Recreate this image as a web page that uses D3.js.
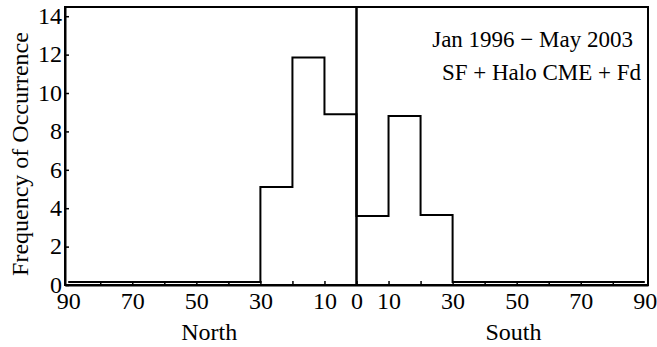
<!DOCTYPE html>
<html>
<head>
<meta charset="utf-8">
<script src="https://cdn.jsdelivr.net/npm/d3@7"></script>
<style>
  body { margin: 0; background: #fff; }
  svg { display: block; }
</style>
</head>
<body>
<div id="chart"></div>
<script>
// latitude bin edges (negative = North, positive = South)
const binStarts = [-90, -80, -70, -60, -50, -40, -30, -20, -10, 0, 10, 20, 30, 40, 50, 60, 70, 80];
const counts    = [0.15, 0.15, 0.15, 0.15, 0.15, 0.15, 5.1, 11.85, 8.9, 3.6, 8.8, 3.65, 0.15, 0.15, 0.15, 0.15, 0.15, 0.15];
const xLabelTicks = [-90, -70, -50, -30, -10, 0, 10, 30, 50, 70, 90];
const yTicks = [0, 2, 4, 6, 8, 10, 12, 14];
const legendLines = ["Jan 1996 \u2212 May 2003", "SF + Halo CME + Fd"];

const width = 657, height = 347;
const margin = { top: 7, right: 9, bottom: 62, left: 65 };
const FONT = "'Liberation Serif', 'Tinos', 'Times New Roman', 'DejaVu Serif', serif";

const svg = d3.select('#chart').append('svg')
  .attr('width', width)
  .attr('height', height);

const x = d3.scaleLinear([-91, 91], [margin.left, width - margin.right]);
const y = d3.scaleLinear([0, 14.48], [height - margin.bottom, margin.top]);

// frame
svg.append('rect')
  .attr('x', x.range()[0])
  .attr('y', y.range()[1])
  .attr('width', x.range()[1] - x.range()[0])
  .attr('height', y.range()[0] - y.range()[1])
  .attr('fill', 'none')
  .attr('stroke', '#000')
  .attr('stroke-width', 2);

// y axis
const yAxis = svg.append('g')
  .attr('transform', `translate(${margin.left},0)`)
  .call(d3.axisLeft(y).tickValues(yTicks).tickSize(-4).tickPadding(3).tickSizeOuter(0));
yAxis.select('.domain').attr('stroke-width', 2);
yAxis.selectAll('.tick line').attr('stroke-width', 1.5);
yAxis.selectAll('text').style('font-size', '24px').style('font-family', FONT).attr('dy', '0.3em');

// x axis minor ticks every 10 degrees
const xMinor = svg.append('g')
  .attr('transform', `translate(0,${y(0)})`)
  .call(d3.axisBottom(x).tickValues(d3.range(-80, 90, 10)).tickSize(-4).tickFormat('').tickSizeOuter(0));
xMinor.select('.domain').remove();
xMinor.selectAll('.tick line').attr('stroke-width', 1.5);

// x axis labels
const xAxis = svg.append('g')
  .attr('transform', `translate(0,${y(0)})`)
  .call(d3.axisBottom(x).tickValues(xLabelTicks).tickSize(0).tickPadding(7)
    .tickFormat(d => Math.abs(d)));
xAxis.select('.domain').attr('stroke-width', 2);
xAxis.selectAll('text').style('font-size', '24px').style('font-family', FONT);

// histogram outline
const pts = binStarts.map((b, i) => [b, counts[i]]);
pts.push([90, counts[counts.length - 1]]);
svg.append('path')
  .datum(pts)
  .attr('fill', 'none')
  .attr('stroke', '#000')
  .attr('stroke-width', 2)
  .attr('d', d3.line().x(d => x(d[0])).y(d => y(d[1])).curve(d3.curveStepAfter));

// divider at equator
svg.append('line')
  .attr('x1', x(0)).attr('x2', x(0))
  .attr('y1', y(0)).attr('y2', y.range()[1])
  .attr('stroke', '#000')
  .attr('stroke-width', 2.5);

// axis titles
svg.append('text')
  .attr('transform', `translate(28,${(y.range()[0] + y.range()[1]) / 2 + 8}) rotate(-90)`)
  .attr('text-anchor', 'middle')
  .style('font-family', FONT)
  .style('font-size', '24px')
  .text('Frequency of Occurrence');

svg.append('text')
  .attr('x', x(-46)).attr('y', 340)
  .attr('text-anchor', 'middle')
  .style('font-family', FONT)
  .style('font-size', '24px')
  .text('North');

svg.append('text')
  .attr('x', x(49)).attr('y', 340)
  .attr('text-anchor', 'middle')
  .style('font-family', FONT)
  .style('font-size', '24px')
  .text('South');

// annotation
svg.append('text')
  .attr('x', 633).attr('y', 47)
  .attr('text-anchor', 'end')
  .style('font-family', FONT)
  .style('font-size', '23px')
  .text(legendLines[0]);
svg.append('text')
  .attr('x', 641).attr('y', 80)
  .attr('text-anchor', 'end')
  .style('font-family', FONT)
  .style('font-size', '23px')
  .text(legendLines[1]);
</script>
</body>
</html>
